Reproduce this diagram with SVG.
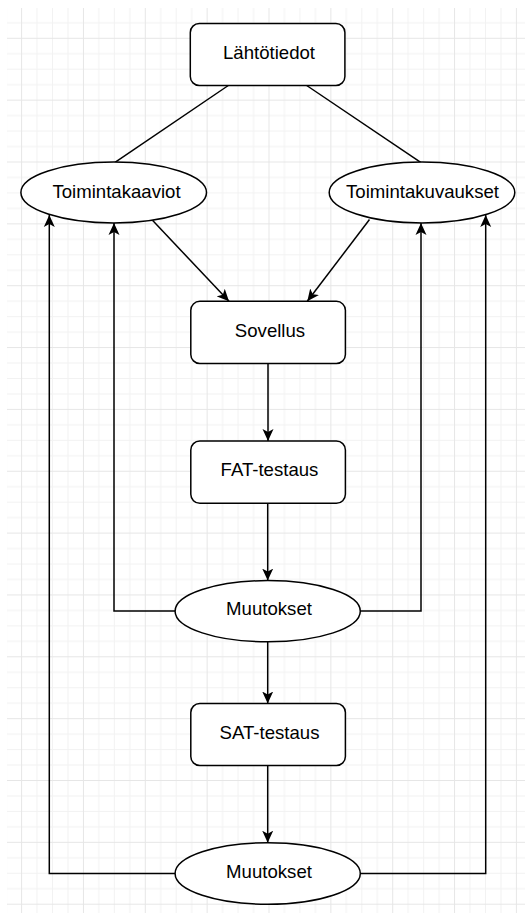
<svg xmlns="http://www.w3.org/2000/svg" width="525" height="913" viewBox="0 0 525 913">
  <defs>
    <pattern id="grid" patternUnits="userSpaceOnUse" x="21.1" y="37.8" width="61.85" height="61.85">
      <path d="M15.96,0V61.85M31.42,0V61.85M46.89,0V61.85M0,15.96H61.85M0,31.42H61.85M0,46.89H61.85" stroke="#f2f2f2" stroke-width="1" fill="none"/>
      <path d="M0.5,0V61.85M0,0.5H61.85" stroke="#e6e6e6" stroke-width="1" fill="none"/>
    </pattern>
    <marker id="arr" viewBox="0 0 12 12" refX="12" refY="6" markerWidth="12" markerHeight="12" markerUnits="userSpaceOnUse" orient="auto">
      <path d="M0,0.5 L12,6 L0,11.5 L3,6 Z" fill="#000"/>
    </marker>
  </defs>
  <style>
    .node { fill: #fff; stroke: #000; stroke-width: 1.5; }
    .lbl { font-family: "Liberation Sans", Arial, sans-serif; font-size: 18.6px; fill: #000; text-anchor: middle; }
    .edge { fill: none; stroke: #000; stroke-width: 1.5; }
    .arrow { marker-end: url(#arr); }
  </style>
  <rect x="0" y="0" width="525" height="913" fill="#fff"/>
  <rect x="7" y="8" width="518" height="905" fill="url(#grid)"/>

  <g id="connectors">
    <path class="edge" d="M228.3,85.5 L115,162.3"/>
    <path class="edge" d="M306.7,85.5 L420.7,162.3"/>
    <path class="edge arrow" d="M152.7,220.5 L229,301.3"/>
    <path class="edge arrow" d="M369.5,219.5 L307.3,301.3"/>
    <path class="edge arrow" d="M268,363.5 L268,441"/>
    <path class="edge arrow" d="M267.7,503.3 L267.7,580.6"/>
    <path class="edge arrow" d="M267.7,641.8 L267.7,703.5"/>
    <path class="edge arrow" d="M267.7,765.5 L267.7,842.7"/>
    <path class="edge arrow" d="M175,611 H114 V223"/>
    <path class="edge arrow" d="M360.3,611 H421 V223"/>
    <path class="edge arrow" d="M175,873.5 H49.3 V215"/>
    <path class="edge arrow" d="M360.3,873.5 H485.7 V215"/>
  </g>

  <g id="lahtotiedot">
    <rect class="node" x="190.3" y="23.5" width="154.6" height="62" rx="9" ry="9"/>
    <text class="lbl" x="269" y="58.5">Lähtötiedot</text>
  </g>
  <g id="toimintakaaviot">
    <ellipse class="node" cx="113.7" cy="192.5" rx="92.8" ry="30.4"/>
    <text class="lbl" x="116.5" y="197.5">Toimintakaaviot</text>
  </g>
  <g id="toimintakuvaukset">
    <ellipse class="node" cx="422" cy="192.5" rx="92.8" ry="30.4"/>
    <text class="lbl" x="422.5" y="197.5">Toimintakuvaukset</text>
  </g>
  <g id="sovellus">
    <rect class="node" x="190.8" y="301.3" width="154.6" height="62.2" rx="9" ry="9"/>
    <text class="lbl" x="270" y="337">Sovellus</text>
  </g>
  <g id="fat-testaus">
    <rect class="node" x="190.8" y="441" width="154.6" height="62.3" rx="9" ry="9"/>
    <text class="lbl" x="269.5" y="475.5">FAT-testaus</text>
  </g>
  <g id="muutokset1">
    <ellipse class="node" cx="267.7" cy="611.2" rx="92.6" ry="30.6"/>
    <text class="lbl" x="269" y="614.5">Muutokset</text>
  </g>
  <g id="sat-testaus">
    <rect class="node" x="190.8" y="703.5" width="154.6" height="62" rx="9" ry="9"/>
    <text class="lbl" x="269.5" y="738.5">SAT-testaus</text>
  </g>
  <g id="muutokset2">
    <ellipse class="node" cx="267.7" cy="873.5" rx="92.6" ry="30.8"/>
    <text class="lbl" x="269" y="878">Muutokset</text>
  </g>
</svg>
